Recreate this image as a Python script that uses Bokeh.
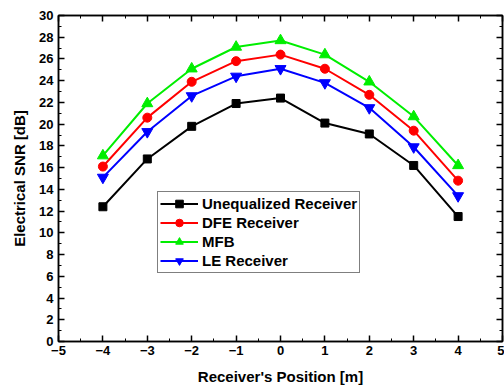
from bokeh.plotting import figure
from bokeh.models import (SingleIntervalTicker, LinearAxis, Range1d, Legend, LegendItem,
                          CustomJSTickFormatter)
from bokeh.embed import file_html
from bokeh.resources import INLINE

positions = [-4, -3, -2, -1, 0, 1, 2, 3, 4]
unequalized = [12.4, 16.8, 19.8, 21.9, 22.4, 20.1, 19.1, 16.2, 11.5]
dfe = [16.1, 20.6, 23.9, 25.8, 26.4, 25.1, 22.7, 19.4, 14.8]
mfb = [17.1, 21.9, 25.1, 27.1, 27.7, 26.4, 23.9, 20.7, 16.2]
le = [15.1, 19.3, 22.6, 24.4, 25.1, 23.8, 21.5, 17.9, 13.4]

FONT = "Liberation Sans"

p = figure(frame_width=444, frame_height=326, output_backend="svg",
           toolbar_location=None, x_range=Range1d(-5, 5), y_range=Range1d(0, 30),
           min_border_left=58, min_border_right=2, min_border_top=15, min_border_bottom=46,
           x_axis_label="Receiver's Position [m]", y_axis_label="Electrical SNR [dB]")
p.xgrid.visible = False
p.ygrid.visible = False
p.outline_line_color = "black"
p.outline_line_width = 1.5

p.xaxis.ticker = SingleIntervalTicker(interval=1, num_minor_ticks=2)
p.yaxis.ticker = SingleIntervalTicker(interval=2, num_minor_ticks=2)

def style(ax):
    ax.major_tick_in = 6
    ax.major_tick_out = 0
    ax.minor_tick_in = 3
    ax.minor_tick_out = 0
    ax.axis_line_width = 1.5
    ax.major_tick_line_width = 1.5
    ax.minor_tick_line_width = 1
    ax.major_label_text_font = FONT
    ax.major_label_text_font_style = "bold"
    ax.major_label_text_font_size = "13px"
    ax.major_label_text_color = "black"
    ax.axis_label_text_font = FONT
    ax.axis_label_text_font_style = "bold"
    ax.axis_label_text_font_size = "15px"
    ax.axis_label_text_color = "black"

for ax in p.xaxis + p.yaxis:
    style(ax)
p.xaxis.major_label_standoff = 4
p.yaxis.major_label_standoff = 5
p.xaxis.axis_label_standoff = 10
p.yaxis.axis_label_standoff = 8

blank = CustomJSTickFormatter(code="return ''")
top = LinearAxis(ticker=SingleIntervalTicker(interval=1, num_minor_ticks=2), formatter=blank)
right = LinearAxis(ticker=SingleIntervalTicker(interval=2, num_minor_ticks=2), formatter=blank)
for ax in (top, right):
    style(ax)
    ax.major_label_standoff = 0
p.add_layout(top, "above")
p.add_layout(right, "right")

series = [
    ("Unequalized Receiver", unequalized, "black", "square", 8),
    ("DFE Receiver", dfe, "red", "circle", 9),
    ("MFB", mfb, "#00ee00", "triangle", 11),
    ("LE Receiver", le, "blue", "inverted_triangle", 11),
]
items = []
for name, ys, col, mk, sz in series:
    l = p.line(positions, ys, line_color=col, line_width=2)
    m = p.scatter(positions, ys, marker=mk, size=sz, fill_color=col, line_color=col)
    items.append(LegendItem(label=name, renderers=[l, m]))

leg = Legend(items=items, location=(99, 68), orientation="vertical")
leg.label_text_font = FONT
leg.label_text_font_style = "bold"
leg.label_text_font_size = "15px"
leg.label_text_color = "black"
leg.glyph_width = 38
leg.glyph_height = 19
leg.label_height = 19
leg.spacing = 0
leg.padding = 2
leg.margin = 0
leg.label_standoff = 4
leg.border_line_color = "black"
leg.border_line_width = 1
leg.background_fill_alpha = 1
p.add_layout(leg, "center")

open("out.html", "w").write(file_html(p, INLINE))
